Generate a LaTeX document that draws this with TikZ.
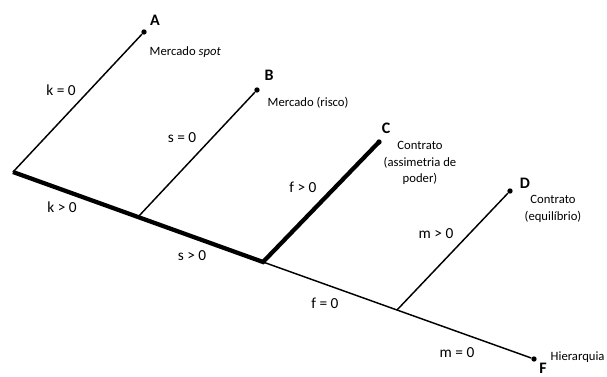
\documentclass[tikz,border=0pt]{standalone}
\usepackage{fontspec}
\setmainfont{Carlito}
\usetikzlibrary{positioning,calc}

\begin{document}
\begin{tikzpicture}[x=0.75pt, y=-0.75pt,
  font=\fontsize{9.5}{12.5}\selectfont,
  leaf/.style={circle, fill=black, inner sep=0pt, minimum size=4pt},
  fork/.style={inner sep=0pt, minimum size=0pt},
  branch/.style={line width=1.1pt, draw=black},
  chosen/.style={line width=3.2pt, draw=black},
  letter/.style={font=\fontsize{12}{14}\selectfont\bfseries, inner sep=1pt},
  cond/.style={font=\fontsize{11.5}{14}\selectfont},
  outcome/.style={align=center},
]
\useasboundingbox (0,0) rectangle (607,377);

% Decision points on the main line
\node[fork] (root) at (13,172) {};
\node[fork] (nB) at (138,217) {};
\node[fork] (nC) at (263,262) {};
\node[fork] (nD) at (397,310) {};

% Outcomes
\node[leaf] (A) at (144,32) {};
\node[leaf] (B) at (257,90) {};
\node[leaf] (C) at (379,142) {};
\node[leaf] (D) at (510,191) {};
\node[leaf] (F) at (534,359) {};

% Branches
\draw[branch] (root.center) -- (A);
\draw[branch] (nB.center) -- (B);
\draw[branch] (nC.center) -- (nD.center) -- (F);
\draw[branch] (nD.center) -- (D);
\draw[chosen] (root.center) -- (nB.center) -- (nC.center) -- (C.center);

% Outcome labels
\node[letter] (labA) at (155,20) {A};
\node[outcome, anchor=west] (txtA) at (145,52) {Mercado \textit{spot}};
\node[letter] (labB) at (269,75) {B};
\node[outcome, anchor=west] (txtB) at (263,103) {Mercado (risco)};
\node[letter] (labC) at (386,128) {C};
\node[outcome] (txtC) at (420,163) {Contrato\\(assimetria de\\poder)};
\node[letter] (labD) at (525,183) {D};
\node[outcome] (txtD) at (553,209) {Contrato\\(equilíbrio)};
\node[letter] (labF) at (543,368) {F};
\node[outcome, anchor=west] (txtF) at (546,357) {Hierarquia};

% Conditions
\node[cond] (k0) at (61,90) {k = 0};
\node[cond] (s0) at (182,138) {s = 0};
\node[cond] (fpos) at (303,187) {f > 0};
\node[cond] (mpos) at (436,234) {m > 0};
\node[cond] (kpos) at (62,207) {k > 0};
\node[cond] (spos) at (192,256) {s > 0};
\node[cond] (f0) at (325,303) {f = 0};
\node[cond] (m0) at (457,353) {m = 0};

\end{tikzpicture}
\end{document}
